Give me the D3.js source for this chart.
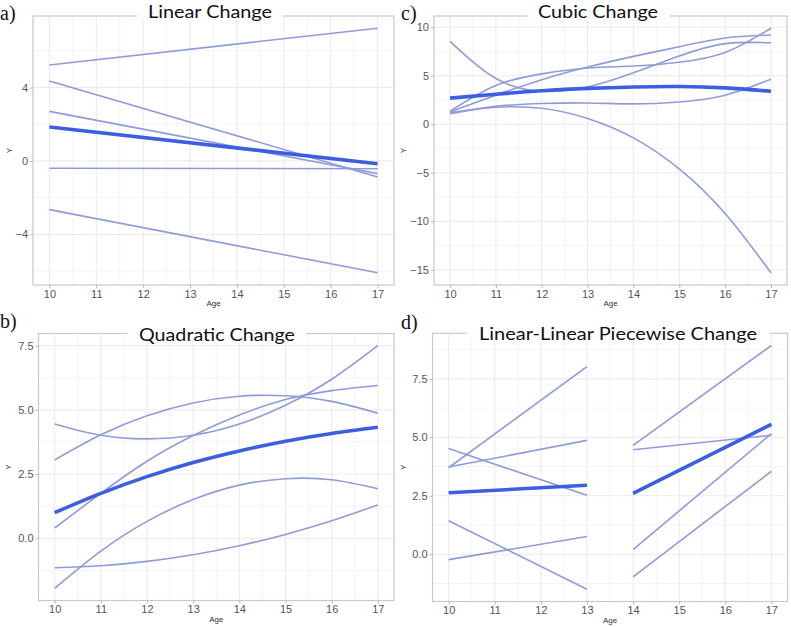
<!DOCTYPE html>
<html><head><meta charset="utf-8">
<script src="https://cdn.jsdelivr.net/npm/d3@7"></script>
<style>body{margin:0;background:#fff}</style>
</head><body>
<svg id="chart" width="791" height="627"></svg>
<script>
// ---------- DATA ----------
const ageTicks = [10, 11, 12, 13, 14, 15, 16, 17];
const fullAges = [10, 11, 12, 13, 14, 15, 16, 17];

// a) Linear change (values at ages 10 and 17)
const linearAges = [10, 17];
const linearIndividuals = [
  [5.23, 7.23],
  [4.36, -0.87],
  [2.70, -0.69],
  [-0.40, -0.42],
  [-2.65, -6.09]
];
const linearMean = [1.85, -0.15];
const linearYTicks = [-4, 0, 4];

// c) Cubic change (values at ages 10..17)
const cubicIndividuals = [
  [8.55, 4.72, 3.40, 3.84, 5.30, 7.04, 8.31, 8.40],
  [1.30, 3.00, 4.60, 5.90, 7.00, 8.00, 8.90, 9.20],
  [1.35, 4.00, 5.20, 5.80, 6.00, 6.40, 7.40, 9.90],
  [1.10, 1.85, 2.15, 2.20, 2.10, 2.30, 3.00, 4.65],
  [1.20, 1.75, 1.65, 0.60, -1.40, -4.60, -9.20, -15.30]
];
const cubicMean = [2.70, 3.10, 3.45, 3.70, 3.85, 3.90, 3.75, 3.40];
const cubicYTicks = [-15, -10, -5, 0, 5, 10];

// b) Quadratic change (values at ages 10..17)
const quadIndividuals = [
  [4.45, 4.01, 3.87, 4.01, 4.45, 5.18, 6.19, 7.50],
  [3.05, 4.03, 4.77, 5.27, 5.53, 5.55, 5.33, 4.87],
  [0.40, 1.75, 3.00, 4.00, 4.80, 5.40, 5.75, 5.95],
  [-1.95, -0.50, 0.66, 1.51, 2.07, 2.32, 2.28, 1.93],
  [-1.15, -1.07, -0.90, -0.64, -0.29, 0.15, 0.68, 1.30]
];
const quadMean = [1.00, 1.75, 2.40, 2.95, 3.40, 3.78, 4.08, 4.32];
const quadYTicks = [0, 2.5, 5, 7.5];

// d) Linear-linear piecewise change
const pieceAges1 = [10, 13];
const pieceIndividuals1 = [
  [3.70, 8.03],
  [3.73, 4.87],
  [4.52, 2.52],
  [1.43, -1.50],
  [-0.23, 0.76]
];
const pieceMean1 = [2.63, 2.95];
const pieceAges2 = [14, 17];
const pieceIndividuals2 = [
  [4.66, 8.93],
  [4.47, 5.09],
  [0.20, 5.16],
  [-0.97, 3.55]
];
const pieceMean2 = [2.60, 5.56];
const pieceYTicks = [0, 2.5, 5, 7.5];

// ---------- LAYOUT ----------
const svg = d3.select('#chart');
const indColor = '#8e9bdc';
const meanColor = '#3c5fe2';

const panels = [
  { label: 'a)', title: 'Linear Change', left: 33, right: 394, top: 16, bottom: 285,
    segments: [{ ages: linearAges, ind: linearIndividuals, mean: linearMean }],
    yTicks: linearYTicks, fmt: d3.format('d'), curve: d3.curveLinear, yLabX: 12,
    labelX: 0, labelY: 20, titleX: 210, titleY: 17.5, titleW: 124, boxL: 137, boxR: 283 },
  { label: 'c)', title: 'Cubic Change', left: 434, right: 787, top: 16, bottom: 285,
    segments: [{ ages: fullAges, ind: cubicIndividuals, mean: cubicMean }],
    yTicks: cubicYTicks, fmt: d3.format('d'), curve: d3.curveNatural, yLabX: 406,
    labelX: 401, labelY: 20, titleX: 598, titleY: 17.5, titleW: 120, boxL: 528, boxR: 670 },
  { label: 'b)', title: 'Quadratic Change', left: 38.5, right: 394, top: 333.5, bottom: 600.5,
    segments: [{ ages: fullAges, ind: quadIndividuals, mean: quadMean }],
    yTicks: quadYTicks, fmt: d3.format('.1f'), curve: d3.curveNatural, yLabX: 11,
    labelX: 0, labelY: 328, titleX: 217, titleY: 341, titleW: 156, boxL: 128, boxR: 306 },
  { label: 'd)', title: 'Linear-Linear Piecewise Change', left: 432.5, right: 787.5, top: 333.3, bottom: 601.5,
    segments: [
      { ages: pieceAges1, ind: pieceIndividuals1, mean: pieceMean1 },
      { ages: pieceAges2, ind: pieceIndividuals2, mean: pieceMean2 }
    ],
    yTicks: pieceYTicks, fmt: d3.format('.1f'), curve: d3.curveLinear, yLabX: 406,
    labelX: 401, labelY: 329, titleX: 618, titleY: 340, titleW: 278, boxL: 467, boxR: 770 }
];

function minorBreaks(majors, domain) {
  const step = majors[1] - majors[0];
  const ext = [majors[0] - step, ...majors, majors[majors.length - 1] + step];
  const out = [];
  for (let i = 0; i < ext.length - 1; i++) {
    const m = (ext[i] + ext[i + 1]) / 2;
    if (m >= domain[0] && m <= domain[1]) out.push(m);
  }
  return out;
}

panels.forEach(p => {
  const g = svg.append('g');
  const allVals = p.segments.flatMap(s => [...s.ind.flat(), ...s.mean]);
  const [mn, mx] = d3.extent(allVals);
  const pad = (mx - mn) * 0.05;
  const yDom = [mn - pad, mx + pad];
  const x = d3.scaleLinear().domain([9.65, 17.35]).range([p.left, p.right]);
  const y = d3.scaleLinear().domain(yDom).range([p.bottom, p.top]);

  // grid
  const xMinor = minorBreaks(ageTicks, x.domain());
  const yMinor = minorBreaks(p.yTicks, yDom);
  g.selectAll('.xmin').data(xMinor).join('line')
    .attr('x1', d => x(d)).attr('x2', d => x(d)).attr('y1', p.top).attr('y2', p.bottom)
    .attr('stroke', '#f4f4f6').attr('stroke-width', 1);
  g.selectAll('.ymin').data(yMinor).join('line')
    .attr('y1', d => y(d)).attr('y2', d => y(d)).attr('x1', p.left).attr('x2', p.right)
    .attr('stroke', '#f4f4f6').attr('stroke-width', 1);
  g.selectAll('.xmaj').data(ageTicks).join('line')
    .attr('x1', d => x(d)).attr('x2', d => x(d)).attr('y1', p.top).attr('y2', p.bottom)
    .attr('stroke', '#eaeaee').attr('stroke-width', 1);
  g.selectAll('.ymaj').data(p.yTicks).join('line')
    .attr('y1', d => y(d)).attr('y2', d => y(d)).attr('x1', p.left).attr('x2', p.right)
    .attr('stroke', '#eaeaee').attr('stroke-width', 1);

  // lines
  p.segments.forEach(s => {
    const line = d3.line().x(d => x(d[0])).y(d => y(d[1])).curve(p.curve);
    s.ind.forEach(vals => {
      g.append('path').datum(s.ages.map((a, i) => [a, vals[i]]))
        .attr('d', line).attr('fill', 'none')
        .attr('stroke', indColor).attr('stroke-width', 1.6);
    });
    g.append('path').datum(s.ages.map((a, i) => [a, s.mean[i]]))
      .attr('d', line).attr('fill', 'none')
      .attr('stroke', meanColor).attr('stroke-width', 3.6).attr('stroke-linecap', 'butt');
  });

  // border
  g.append('rect').attr('x', p.left).attr('y', p.top)
    .attr('width', p.right - p.left).attr('height', p.bottom - p.top)
    .attr('fill', 'none').attr('stroke', '#c9c9c9').attr('stroke-width', 1.2);

  // axes
  const xAxis = d3.axisBottom(x).tickValues(ageTicks).tickSize(3).tickPadding(2).tickFormat(d3.format('d'));
  const gx = g.append('g').attr('transform', `translate(0,${p.bottom})`).call(xAxis);
  const yAxis = d3.axisLeft(y).tickValues(p.yTicks).tickSize(3).tickPadding(2).tickFormat(p.fmt);
  const gy = g.append('g').attr('transform', `translate(${p.left},0)`).call(yAxis);
  [gx, gy].forEach(ax => {
    ax.select('.domain').remove();
    ax.selectAll('.tick line').attr('stroke', '#b8b8b8');
    ax.selectAll('.tick text').attr('fill', '#555').attr('font-size', 11)
      .attr('font-family', 'Liberation Sans, Arial, sans-serif');
  });

  // axis titles
  g.append('text').attr('x', (p.left + p.right) / 2).attr('y', p.bottom + 21)
    .attr('text-anchor', 'middle').attr('font-size', 8).attr('fill', '#333')
    .attr('font-family', 'Liberation Sans, Arial, sans-serif').text('Age');
  const yMid = (p.top + p.bottom) / 2;
  g.append('text').attr('transform', `translate(${p.yLabX},${yMid}) rotate(-90)`)
    .attr('text-anchor', 'middle').attr('font-size', 8).attr('fill', '#333')
    .attr('font-family', 'Liberation Sans, Arial, sans-serif').text('Y');

  // title with white box
  g.append('rect').attr('x', p.boxL).attr('y', p.top - 4)
    .attr('width', p.boxR - p.boxL).attr('height', 8).attr('fill', '#fff');
  g.append('text').attr('x', p.titleX).attr('y', p.titleY)
    .attr('text-anchor', 'middle').attr('font-size', 17).attr('fill', '#111')
    .attr('font-family', 'Lato, Open Sans, sans-serif')
    .attr('textLength', p.titleW).attr('lengthAdjust', 'spacingAndGlyphs')
    .text(p.title);

  // panel label
  g.append('text').attr('x', p.labelX).attr('y', p.labelY)
    .attr('font-size', 20).attr('fill', '#111')
    .attr('font-family', 'Liberation Serif, Times New Roman, serif')
    .text(p.label);
});
</script>
</body></html>
